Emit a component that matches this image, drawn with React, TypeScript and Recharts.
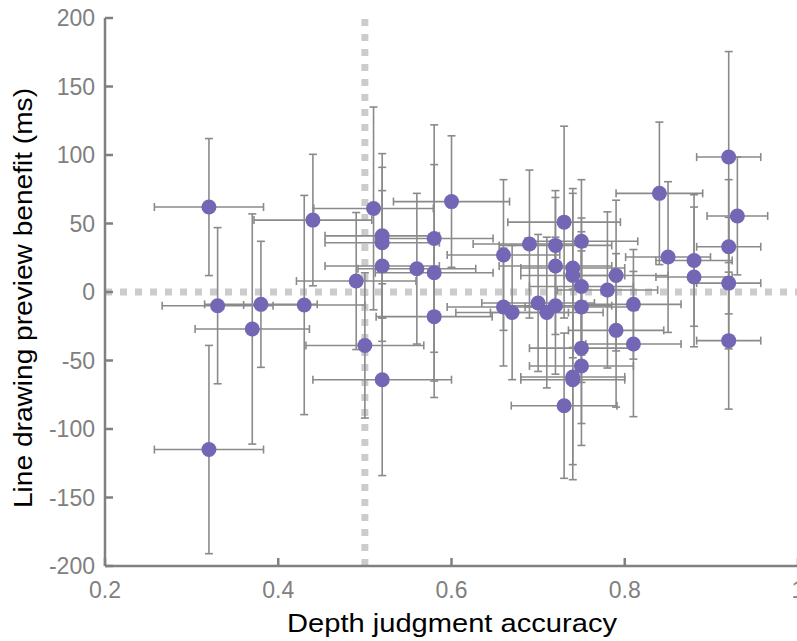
import { ScatterChart, Scatter, XAxis, YAxis, ErrorBar, ReferenceLine } from 'recharts';

// depth judgment accuracy per observer (x) and its error
const accuracy = [
  0.32, 0.32, 0.33, 0.38, 0.37, 0.43, 0.44, 0.49, 0.51, 0.52,
  0.52, 0.52, 0.52, 0.50, 0.56, 0.58, 0.58, 0.58, 0.60, 0.66,
  0.69, 0.72, 0.73, 0.75, 0.72, 0.74, 0.74, 0.75, 0.78, 0.79,
  0.84, 0.81, 0.66, 0.67, 0.70, 0.71, 0.72, 0.75, 0.79, 0.81,
  0.75, 0.75, 0.74, 0.74, 0.73, 0.92, 0.93, 0.92, 0.92, 0.85,
  0.88, 0.88, 0.92,
];
const accuracyErr = [
  0.063, 0.063, 0.064, 0.065, 0.066, 0.07, 0.068, 0.069, 0.069, 0.066,
  0.066, 0.066, 0.08, 0.068, 0.068, 0.068, 0.068, 0.067, 0.067, 0.065,
  0.065, 0.065, 0.065, 0.065, 0.065, 0.06, 0.06, 0.06, 0.058, 0.06,
  0.05, 0.055, 0.065, 0.065, 0.065, 0.065, 0.065, 0.065, 0.055, 0.055,
  0.06, 0.06, 0.06, 0.06, 0.061, 0.037, 0.035, 0.037, 0.037, 0.049,
  0.044, 0.044, 0.037,
];

// line drawing preview benefit in ms (y) and its error
const benefit = [
  62, -115, -10, -9, -27, -9.5, 52.5, 8, 61, 41,
  36, 19, -64, -39, 17, 39, 14, -18, 66, 27,
  35, 34, 51, 37, 19, 17.5, 12, 4, 1.5, 12,
  72, -9, -11, -15, -8, -15, -10, -11, -28, -38,
  -41, -54, -62, -64, -83, 98.5, 55.5, 33, 6.5, 25.5,
  23, 11, -35.5,
];
const benefitErr = [
  50, 76, 57, 46, 84, 80, 48, 50, 74, 60,
  55, 55, 70, 53, 55, 83, 79, 59, 48, 55,
  54, 40, 70, 45, 50, 58, 60, 50, 57, 55,
  52, 40, 43, 49, 50, 55, 50, 55, 56, 53,
  71, 42, 64, 73, 53, 77, 43, 49, 48, 55,
  48, 51, 50,
];

const xTicks = [0.2, 0.4, 0.6, 0.8, 1];
const yTicks = [-200, -150, -100, -50, 0, 50, 100, 150, 200];

const data = accuracy.map((x, i) => ({
  x,
  y: benefit[i],
  xErr: accuracyErr[i],
  yErr: benefitErr[i],
}));

const AXIS = '#808080';
const FONT = '"Liberation Sans", Arial, Helvetica, sans-serif';

const YTick = (props: any) => {
  const { x, y, payload } = props;
  return (
    <g>
      <line x1={x + 10} x2={x + 18} y1={y} y2={y} stroke={AXIS} strokeWidth={2.5} />
      <text x={x} y={y} dy="0.36em" textAnchor="end" fill={AXIS} fontSize={23} fontFamily={FONT}>
        {payload.value}
      </text>
    </g>
  );
};

const XTick = (props: any) => {
  const { x, y, payload } = props;
  return (
    <g>
      <line x1={x} x2={x} y1={y} y2={y - 8} stroke={AXIS} strokeWidth={2.5} />
      <text x={x} y={y + 32} textAnchor="middle" fill={AXIS} fontSize={23} fontFamily={FONT}>
        {payload.value}
      </text>
    </g>
  );
};

// axis titles, placed like the original figure
const XTitle = () => (
  <text x={452} y={632} textAnchor="middle" fill="#000" fontSize={26} fontFamily={FONT} textLength={330} lengthAdjust="spacingAndGlyphs">
    Depth judgment accuracy
  </text>
);

const YTitle = () => (
  <text transform="translate(32,298) rotate(-90)" textAnchor="middle" fill="#000" fontSize={26} fontFamily={FONT} textLength={420} lengthAdjust="spacingAndGlyphs">
    Line drawing preview benefit (ms)
  </text>
);

const Dot = (props: any) => <circle cx={props.cx} cy={props.cy} r={7.5} fill="#7366b5" />;

export default function App() {
  return (
    <div style={{ position: 'fixed', left: 0, top: 0, width: 797, height: 641, overflow: 'hidden', background: '#fff' }}>
      <ScatterChart width={820} height={641} margin={{ top: 18, right: 22, bottom: 0, left: 0 }}>
        <XAxis
          type="number"
          dataKey="x"
          domain={[0.2, 1]}
          ticks={xTicks}
          height={75}
          tickSize={0}
          tickMargin={0}
          tick={<XTick />}
          axisLine={{ stroke: AXIS, strokeWidth: 2.5 }}
          label={<XTitle />}
        />
        <YAxis
          type="number"
          dataKey="y"
          domain={[-200, 200]}
          ticks={yTicks}
          width={105}
          tickSize={0}
          tickMargin={10}
          tick={<YTick />}
          axisLine={{ stroke: AXIS, strokeWidth: 2.5 }}
          label={<YTitle />}
        />
        <ReferenceLine x={0.5} stroke="#cccccc" strokeWidth={7} strokeDasharray="7 8" />
        <ReferenceLine y={0} stroke="#cccccc" strokeWidth={7} strokeDasharray="7 8" />
        <Scatter data={data} shape={<Dot />} isAnimationActive={false}>
          <ErrorBar dataKey="yErr" direction="y" stroke="#8a8a8a" strokeWidth={1.6} width={4} />
          <ErrorBar dataKey="xErr" direction="x" stroke="#8a8a8a" strokeWidth={1.6} width={4} />
        </Scatter>
      </ScatterChart>
    </div>
  );
}
